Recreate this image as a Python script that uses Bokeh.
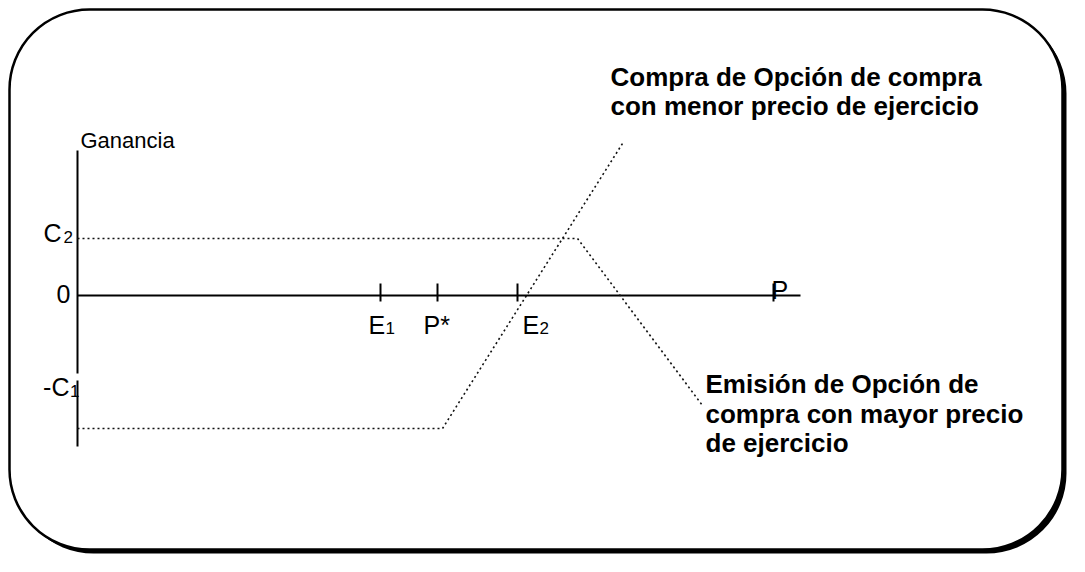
from bokeh.plotting import figure
from bokeh.models import BoxAnnotation
from bokeh.core.properties import value
from bokeh.embed import file_html
from bokeh.resources import INLINE

# ---- data (price on x, profit on y) ----
long_call_x = [0.0, 36.5, 54.5]
long_call_y = [-13.3, -13.3, 15.2]
short_call_x = [0.0, 50.0, 62.5]
short_call_y = [5.7, 5.7, -11.0]

price_ticks = [30.3, 36.0, 44.0, 69.6]
price_labels = ["E", "P*", "E", "P"]
price_subs = ["1", "", "2", ""]

profit_ticks = [5.7, 0.0, -9.2]
profit_labels = ["C", "0", "-C"]
profit_subs = ["2", "", "1"]

axis_x_end = 72.3
axis_y_top = 14.5
axis_y_bottom = -15.1
axis_y_gap = (-7.8, -8.5)

y_title = "Ganancia"
note_long = ["Compra de Opción de compra", "con menor precio de ejercicio"]
note_short = ["Emisión de Opción de", "compra con mayor precio", "de ejercicio"]

FONT = value("Liberation Sans")

p = figure(width=1069, height=556, x_range=(-7.7, 99.2), y_range=(-26.1, 29.5),
           x_axis_type=None, y_axis_type=None, toolbar_location=None,
           output_backend="svg", min_border=0, outline_line_color=None,
           background_fill_color="white", border_fill_color="white")
p.grid.visible = False

# rounded frame with shadow
shadow = BoxAnnotation(left=-6.4, right=98.9, top=28.2, bottom=-25.8,
                       fill_color="black", fill_alpha=1.0, line_color=None,
                       border_radius=80, level="underlay")
frame = BoxAnnotation(left=-6.8, right=98.5, top=28.6, bottom=-25.4,
                      fill_color="white", fill_alpha=1.0, line_color="black",
                      line_alpha=1.0, line_width=2.5, border_radius=80, level="underlay")
p.add_layout(shadow)
p.add_layout(frame)

# axes
p.segment(x0=[0], y0=[0], x1=[axis_x_end], y1=[0], line_color="black", line_width=2)
p.segment(x0=[0, 0], y0=[axis_y_top, axis_y_gap[1]], x1=[0, 0],
          y1=[axis_y_gap[0], axis_y_bottom], line_color="black", line_width=2)

# ticks on price axis
p.segment(x0=price_ticks, y0=[1.2] * len(price_ticks), x1=price_ticks,
          y1=[-0.6] * len(price_ticks), line_color="black", line_width=2)

# payoff lines
p.line(long_call_x, long_call_y, line_color="#111111", line_width=1.6, line_dash="2 3")
p.line(short_call_x, short_call_y, line_color="#111111", line_width=1.6, line_dash="2 3")

# price labels
lab_dx = [-1.2, -1.4, 0.5, -0.2]
main_x = [t + d for t, d in zip(price_ticks, lab_dx)]
main_y = [-2.9, -2.9, -2.9, 0.6]
p.text(x=main_x, y=main_y, text=price_labels, text_font=FONT, text_font_size="25px",
       text_align="left", text_baseline="alphabetic", text_color="black")
sub_x = [main_x[0] + 1.7, main_x[2] + 1.7]
sub_y = [-3.2, -3.2]
p.text(x=sub_x, y=sub_y, text=[price_subs[0], price_subs[2]], text_font=FONT,
       text_font_size="17px", text_align="left", text_baseline="alphabetic",
       text_color="black")

# profit labels
p.text(x=[-1.6, -0.7, -0.8], y=[profit_ticks[0] + 0.6, profit_ticks[1] + 0.2, profit_ticks[2] + 0.1],
       text=profit_labels, text_font=FONT, text_font_size="25px",
       text_align="right", text_baseline="alphabetic", text_color="black")
p.text(x=[-1.4, -0.75], y=[profit_ticks[0] + 0.2, profit_ticks[2] - 0.3],
       text=[profit_subs[0], profit_subs[2]], text_font=FONT, text_font_size="17px",
       text_align="left", text_baseline="alphabetic", text_color="black")

# y title
p.text(x=[0.3], y=[15.5], text=[y_title], text_font=FONT, text_font_size="22px",
       text_align="left", text_baseline="alphabetic", text_color="black")

# notes
p.text(x=[53.3] * 2, y=[21.9, 19.0], text=note_long, text_font=FONT,
       text_font_size="26px", text_font_style="bold", text_align="left",
       text_baseline="alphabetic", text_color="black")
p.text(x=[62.8] * 3, y=[-8.8, -11.8, -14.7], text=note_short, text_font=FONT,
       text_font_size="26px", text_font_style="bold", text_align="left",
       text_baseline="alphabetic", text_color="black")

open("out.html", "w").write(file_html(p, INLINE))
